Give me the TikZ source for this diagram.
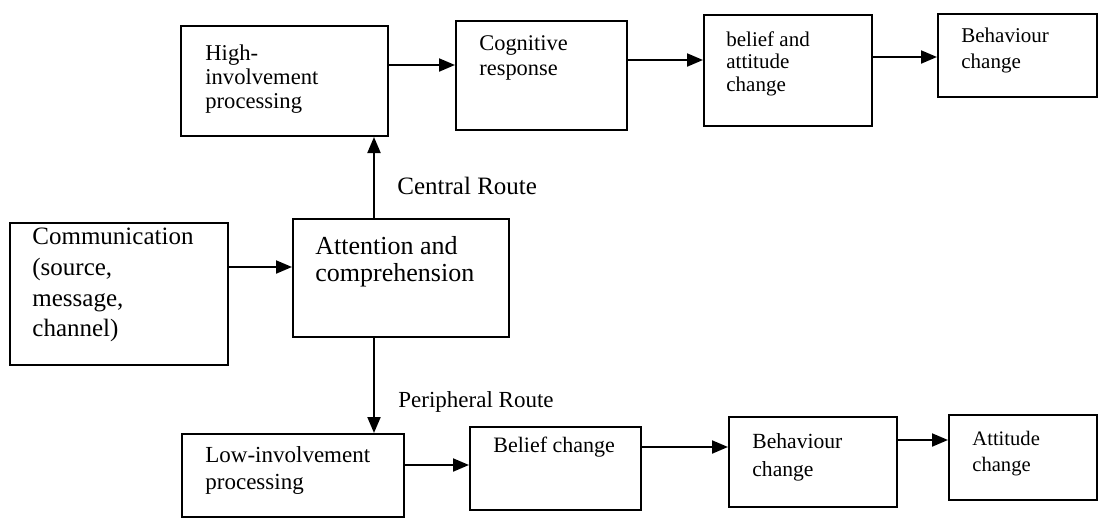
\documentclass[tikz,border=0pt]{standalone}
\usepackage{fontspec}
\setmainfont{Liberation Serif}
\usetikzlibrary{arrows.meta,fit}
\newcommand{\fs}[2]{\fontsize{#1}{#2}\selectfont}
\begin{document}
\begin{tikzpicture}[x=0.5pt,y=-0.5pt,
  box/.style={draw=black,line width=1pt,inner sep=0pt,rectangle},
  txt/.style={inner sep=0pt,anchor=north west,align=left},
  arr/.style={draw=black,line width=1pt,-{Triangle[length=8pt,width=6.5pt]}}]
\useasboundingbox (0,0) rectangle (1100,520);
% boxes
\node[box,fit={(181,26) (388,136)}] (hi) {};
\node[box,fit={(456,21) (627,130)}] (cog) {};
\node[box,fit={(704,15) (872,126)}] (bat) {};
\node[box,fit={(938,14) (1097,97)}] (beh1) {};
\node[box,fit={(10,223) (228,365)}] (com) {};
\node[box,fit={(293,219) (509,337)}] (att) {};
\node[box,fit={(182,434) (404,517)}] (lo) {};
\node[box,fit={(470,427) (641,510)}] (bel) {};
\node[box,fit={(729,417) (897,507)}] (beh2) {};
\node[box,fit={(949,415) (1097,500)}] (att2) {};
% texts
\node[txt,font=\fs{11.3}{12}] (hit) at (205,44) {High-\\involvement\\processing};
\node[txt,font=\fs{11.2}{12.5}] (cogt) at (479,35) {Cognitive\\response};
\node[txt,font=\fs{10.5}{11.3}] (batt) at (726,31) {belief and\\attitude\\change};
\node[txt,font=\fs{10.5}{13}] (beh1t) at (961,28) {Behaviour\\change};
\node[txt,font=\fs{12.5}{15.3}] (comt) at (32,228) {Communication\\(source,\\message,\\channel)};
\node[txt,font=\fs{13}{13.5}] (attt) at (315,236) {Attention and\\comprehension};
\node[txt,font=\fs{11.5}{13.5}] (lot) at (205,446) {Low-involvement\\processing};
\node[txt,font=\fs{11}{13}] (belt) at (493,437) {Belief change};
\node[txt,font=\fs{10.8}{14}] (beh2t) at (752,433) {Behaviour\\change};
\node[txt,font=\fs{10.3}{13}] (att2t) at (972,431) {Attitude\\change};
\node[txt,font=\fs{12.5}{14}] (cr) at (397,177) {Central Route};
\node[txt,font=\fs{11.5}{13}] (pr) at (398,391) {Peripheral Route};
% connector levels
\coordinate (y1) at (0,65);
\coordinate (y2) at (0,60);
\coordinate (y3) at (0,57);
\coordinate (y4) at (0,267);
\coordinate (y5) at (0,465);
\coordinate (y6) at (0,447);
\coordinate (y7) at (0,440);
\coordinate (xc) at (374,0);
% connectors
\draw[arr] (hi.east |- y1) -- (cog.west |- y1);
\draw[arr] (cog.east |- y2) -- (bat.west |- y2);
\draw[arr] (bat.east |- y3) -- (beh1.west |- y3);
\draw[arr] (com.east |- y4) -- (att.west |- y4);
\draw[arr] (att.north -| xc) -- (hi.south -| xc);
\draw[arr] (att.south -| xc) -- (lo.north -| xc);
\draw[arr] (lo.east |- y5) -- (bel.west |- y5);
\draw[arr] (bel.east |- y6) -- (beh2.west |- y6);
\draw[arr] (beh2.east |- y7) -- (att2.west |- y7);
\end{tikzpicture}
\end{document}
